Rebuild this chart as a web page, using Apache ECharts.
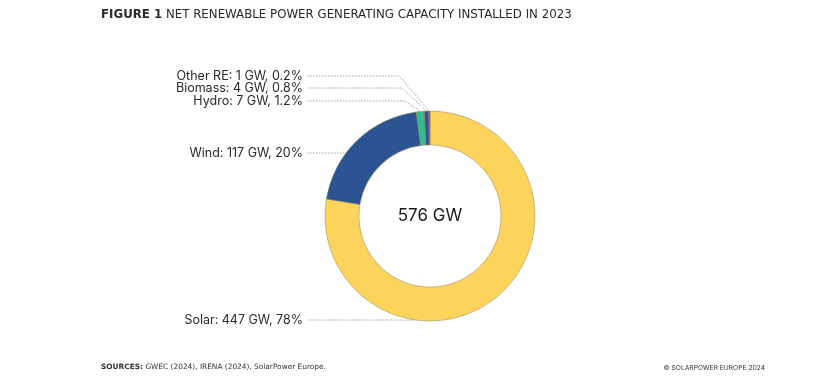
<!DOCTYPE html>
<html>
<head>
<meta charset="utf-8">
<script src="https://cdn.jsdelivr.net/npm/echarts@6/dist/echarts.min.js"></script>
<style>
html,body{margin:0;padding:0;background:#fff;}
#chart{width:840px;height:378px;}
</style>
</head>
<body>
<div id="chart"></div>
<script>
// ---- data ----
var categories = ['Solar', 'Wind', 'Hydro', 'Biomass', 'Other RE'];
var capacityGW = [447, 117, 7, 4, 1];
var shareLabels = ['78%', '20%', '1.2%', '0.8%', '0.2%'];
var totalLabel = '576 GW';

// ---- style / layout ----
var colors = ['#FCD45C', '#2A5592', '#32BE8A', '#3C4A9E', '#7A5A8E'];
var CX = 430, CY = 216, R_IN = 71, R_OUT = 105;
var labelRight = 303;
var labelYs = [320, 153, 101, 88, 76];
var bendXs = [null, null, 405, 402, 399];

var total = capacityGW.reduce(function(a, b){ return a + b; }, 0);
function midAngle(i) {
  var before = 0;
  for (var k = 0; k < i; k++) before += capacityGW[k];
  var frac = (before + capacityGW[i] / 2) / total;
  return frac * 2 * Math.PI; // clockwise from top
}

var chart = echarts.init(document.getElementById('chart'), null, {renderer: 'canvas'});
var option = {
  animation: false,
  backgroundColor: '#ffffff',
  title: [{
    text: '{b|FIGURE 1} NET RENEWABLE POWER GENERATING CAPACITY INSTALLED IN 2023',
    left: 101, top: 9, padding: 0,
    textStyle: {
      fontFamily: 'DejaVu Sans', fontSize: 11.8, fontWeight: 'normal', color: '#2a2a2a',
      rich: { b: { fontFamily: 'DejaVu Sans', fontSize: 11.8, fontWeight: 'bold', color: '#2a2a2a' } }
    }
  }, {
    text: '{b|SOURCES:} GWEC (2024), IRENA (2024), SolarPower Europe.',
    left: 101, top: 364, padding: 0,
    textStyle: {
      fontFamily: 'DejaVu Sans', fontSize: 7.4, color: '#333', fontWeight: 'normal',
      rich: { b: { fontFamily: 'DejaVu Sans', fontSize: 7.4, fontWeight: 'bold', color: '#333' } }
    }
  }, {
    text: '© SOLARPOWER EUROPE 2024',
    right: 75, top: 364, padding: 0,
    textStyle: { fontFamily: 'Inter', fontSize: 6.7, color: '#333', fontWeight: 'normal' }
  }],
  graphic: [{
    type: 'text', x: CX, y: CY,
    style: {
      text: totalLabel, align: 'center', verticalAlign: 'middle',
      fontFamily: 'Inter', fontSize: 17, fill: '#1a1a1a'
    }
  }],
  series: [{
    type: 'pie',
    center: [CX, CY],
    radius: [R_IN, R_OUT],
    startAngle: 90,
    clockwise: true,
    avoidLabelOverlap: false,
    itemStyle: { borderColor: '#8c8460', borderWidth: 0.5 },
    data: categories.map(function(c, i){
      return { name: c, value: capacityGW[i], itemStyle: { color: colors[i] } };
    }),
    label: {
      show: true,
      formatter: function(p){ return p.name + ': ' + capacityGW[p.dataIndex] + ' GW, ' + shareLabels[p.dataIndex]; },
      fontFamily: 'Inter', fontSize: 12.5, color: '#2a2a2a'
    },
    labelLine: {
      show: true,
      lineStyle: { color: '#888', width: 0.8, type: [1.5, 1.5] }
    },
    labelLayout: function(params) {
      var i = params.dataIndex;
      var y = labelYs[i];
      var startX = labelRight + 4;
      var pts;
      if (bendXs[i] === null) {
        var dy = y - CY;
        var dx = Math.sqrt(Math.max(R_OUT * R_OUT - dy * dy, 0));
        pts = [[startX, y], [startX, y], [CX - dx, y]];
      } else {
        var a = midAngle(i);
        var ex = CX + R_OUT * Math.sin(a);
        var ey = CY - R_OUT * Math.cos(a);
        pts = [[startX, y], [bendXs[i], y], [ex, ey]];
      }
      return {
        x: labelRight, y: y,
        align: 'right', verticalAlign: 'middle',
        labelLinePoints: pts
      };
    }
  }]
};
chart.setOption(option);
</script>
</body>
</html>
